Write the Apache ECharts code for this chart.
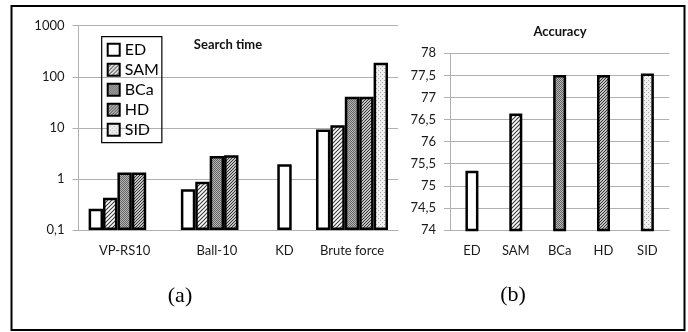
<!DOCTYPE html>
<html>
<head>
<meta charset="utf-8">
<script src="https://cdn.jsdelivr.net/npm/echarts@6/dist/echarts.min.js"></script>
<style>
  html, body { margin: 0; padding: 0; background: #fff; }
  #chart { width: 688px; height: 332px; }
</style>
</head>
<body>
<div id="chart"></div>
<script>
// categories
const groupNames = ['VP-RS10', 'Ball-10', 'KD', 'Brute force'];
const metricNames = ['ED', 'SAM', 'BCa', 'HD', 'SID'];

// search time (log scale), one array per metric, indexed by group
const timeED = [0.26, 0.63, 1.94, 9.3];
const timeSAM = [0.43, 0.88, null, 11.3];
const timeBCa = [1.33, 2.82, null, 40.6];
const timeHD = [1.33, 2.9, null, 40.6];
const timeSID = [null, null, null, 188];

// accuracy per metric
const accuracy = [75.34, 76.64, 77.51, 77.51, 77.54];

// axis ticks
const timeTicks = [0.1, 1, 10, 100, 1000];
const accTicks = [74, 74.5, 75, 75.5, 76, 76.5, 77, 77.5, 78];

const timeValues = [timeED, timeSAM, timeBCa, timeHD, timeSID];

function makeCanvas(size, draw) {
    const c = document.createElement('canvas');
    c.width = c.height = size;
    draw(c.getContext('2d'), size);
    return c;
}
function hatch(color, size, lw) {
    return makeCanvas(size, function (g, s) {
        g.fillStyle = '#fff';
        g.fillRect(0, 0, s, s);
        g.strokeStyle = color;
        g.lineWidth = lw;
        g.beginPath();
        g.moveTo(0, s); g.lineTo(s, 0);
        g.moveTo(-1, 1); g.lineTo(1, -1);
        g.moveTo(s - 1, s + 1); g.lineTo(s + 1, s - 1);
        g.stroke();
    });
}
const fills = [
    '#ffffff',
    { image: hatch('#3a3a3a', 4, 1.1), repeat: 'repeat' },
    { image: makeCanvas(2, function (g) {
        g.fillStyle = '#b4b4b4'; g.fillRect(0, 0, 2, 2);
        g.fillStyle = '#666'; g.fillRect(0, 0, 1, 1); g.fillRect(1, 1, 1, 1);
      }), repeat: 'repeat' },
    { image: hatch('#2a2a2a', 3, 1.1), repeat: 'repeat' },
    { image: makeCanvas(4, function (g) {
        g.fillStyle = '#efefef'; g.fillRect(0, 0, 4, 4);
        g.fillStyle = '#a8a8a8'; g.fillRect(0, 0, 1, 1); g.fillRect(2, 2, 1, 1);
      }), repeat: 'repeat' }
];

const font = 'Lato';
const gray = '#b0b0b0';
const barStyle = function (i) {
    return { color: fills[i], borderColor: '#000', borderWidth: 2.5 };
};

// left panel is split in three pieces, KD is narrow in the original
const panels = [
    { from: 0, to: 2, left: 78.5, width: 184.5, count: 5 },
    { from: 2, to: 3, left: 263, width: 43, count: 1 },
    { from: 3, to: 4, left: 306, width: 92, count: 5 }
];

const grid = [], xAxis = [], yAxis = [], series = [];

panels.forEach(function (p, k) {
    grid.push({ left: p.left, width: p.width, top: 25.7, height: 204.3, containLabel: false, outerBoundsMode: 'none' });
    xAxis.push({
        type: 'category', gridIndex: k,
        data: groupNames.slice(p.from, p.to),
        axisLine: { lineStyle: { color: gray } },
        axisTick: { length: 5, lineStyle: { color: gray } },
        axisLabel: { margin: 14, fontSize: 13, fontFamily: font, color: '#1a1a1a' }
    });
    yAxis.push({
        type: 'log', gridIndex: k, logBase: 10,
        min: timeTicks[0], max: timeTicks[timeTicks.length - 1],
        startValue: timeTicks[0],
        axisLine: { show: k === 0, lineStyle: { color: gray } },
        axisTick: { show: k === 0, length: 6, lineStyle: { color: gray } },
        axisLabel: {
            show: k === 0, margin: 14, fontSize: 13, fontFamily: font, color: '#1a1a1a',
            formatter: function (v) { return String(+v.toPrecision(4)).replace('.', ','); }
        },
        splitLine: { lineStyle: { color: gray } }
    });
    for (let i = 0; i < p.count; i++) {
        series.push({
            type: 'bar', name: metricNames[i],
            xAxisIndex: k, yAxisIndex: k,
            barWidth: 14.4, barGap: '0%',
            itemStyle: barStyle(i),
            data: timeValues[i].slice(p.from, p.to),
            animation: false
        });
    }
});

// right panel: accuracy
grid.push({ left: 450, width: 219.3, top: 53.3, height: 176.7, containLabel: false, outerBoundsMode: 'none' });
xAxis.push({
    type: 'category', gridIndex: 3, data: metricNames,
    axisLine: { lineStyle: { color: gray } },
    axisTick: { length: 5, lineStyle: { color: gray } },
    axisLabel: { margin: 14, fontSize: 13, fontFamily: font, color: '#1a1a1a' }
});
yAxis.push({
    type: 'value', gridIndex: 3,
    min: accTicks[0], max: accTicks[accTicks.length - 1], interval: accTicks[1] - accTicks[0],
    axisLine: { show: true, lineStyle: { color: gray } },
    axisTick: { show: true, length: 6, lineStyle: { color: gray } },
    axisLabel: {
        margin: 14, fontSize: 13, fontFamily: font, color: '#1a1a1a',
        formatter: function (v) { return String(v).replace('.', ','); }
    },
    splitLine: { lineStyle: { color: gray } }
});
series.push({
    type: 'bar', name: 'Accuracy', xAxisIndex: 3, yAxisIndex: 3,
    barWidth: 13,
    data: accuracy.map(function (v, i) { return { value: v, itemStyle: barStyle(i) }; }),
    animation: false
});

const chart = echarts.init(document.getElementById('chart'), null, { renderer: 'canvas' });
chart.setOption({
    backgroundColor: '#fff',
    animation: false,
    title: [
        { text: 'Search time', left: 228, top: 38, textAlign: 'center', padding: 0,
          textStyle: { fontSize: 13, fontWeight: 'bold', fontFamily: font, color: '#111' } },
        { text: 'Accuracy', left: 560, top: 25, textAlign: 'center', padding: 0,
          textStyle: { fontSize: 13, fontWeight: 'bold', fontFamily: font, color: '#111' } }
    ],
    legend: {
        data: metricNames,
        orient: 'vertical', left: 101.7, top: 36.7,
        padding: [5, 3, 5, 5],
        itemWidth: 12, itemHeight: 12, itemGap: 4,
        icon: 'rect',
        borderColor: '#000', borderWidth: 1.2,
        textStyle: { fontSize: 16, fontFamily: font, color: '#000', lineHeight: 16 }
    },
    grid: grid,
    xAxis: xAxis,
    yAxis: yAxis,
    series: series,
    graphic: [
        { type: 'rect', shape: { x: 11.5, y: 6, width: 673, height: 324 },
          style: { fill: 'none', stroke: '#000', lineWidth: 2 }, silent: true },
        { type: 'text', x: 180, y: 296,
          style: { text: '(a)', font: '22px "Liberation Serif"', fill: '#000', align: 'center', verticalAlign: 'middle' } },
        { type: 'text', x: 513, y: 295,
          style: { text: '(b)', font: '22px "Liberation Serif"', fill: '#000', align: 'center', verticalAlign: 'middle' } }
    ]
});
</script>
</body>
</html>
